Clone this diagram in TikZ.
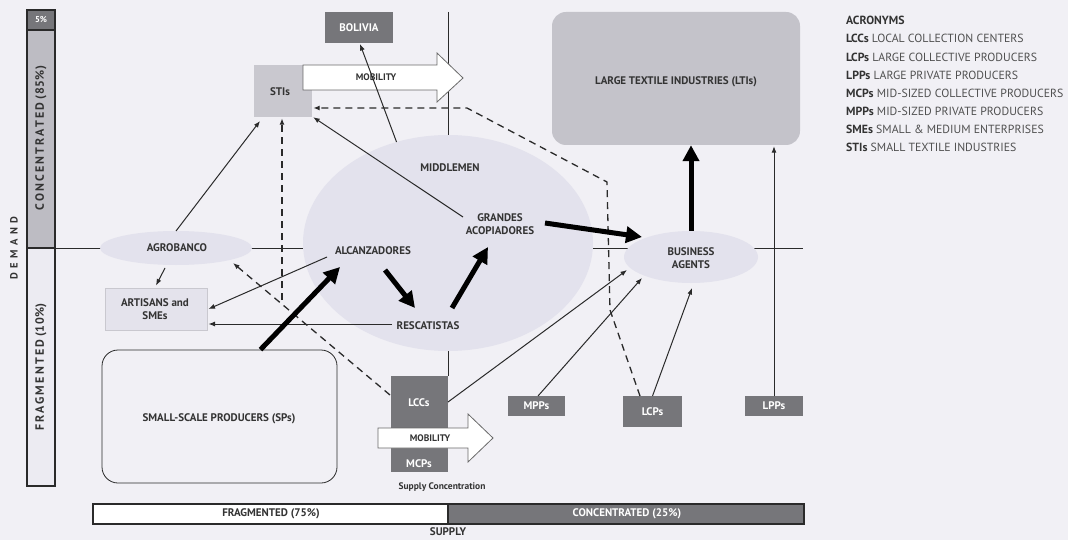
\documentclass[tikz,border=0pt]{standalone}
\usepackage{fontspec}
\setmainfont{PT Sans}
\usetikzlibrary{arrows.meta,shapes.geometric}

\definecolor{bg}{HTML}{F1F0F5}
\definecolor{ellfill}{HTML}{E3E2ED}
\definecolor{ltifill}{HTML}{C4C3CA}
\definecolor{stifill}{HTML}{C9C8CF}
\definecolor{dkbox}{HTML}{76767A}
\definecolor{concbar}{HTML}{BDBCC3}
\definecolor{fragbar}{HTML}{ECEBF2}
\definecolor{artfill}{HTML}{E4E3EC}
\definecolor{txt}{HTML}{333333}
\definecolor{acrtxt}{HTML}{505050}
\definecolor{edge}{HTML}{2A2A2A}

\newcommand{\lblfont}{\fontsize{11}{12.5}\selectfont\bfseries}
\newcommand{\accfont}{\fontsize{11.8}{13}\selectfont}

\tikzset{
  lbl/.style={font=\lblfont, text=txt, inner sep=1pt, align=center},
  cell/.style={draw=edge, line width=1.6pt, inner sep=0pt, outer sep=0pt},
  dbox/.style={fill=dkbox, text=white, inner sep=0pt, outer sep=0pt, font=\lblfont},
  thinarrow/.style={draw=edge, line width=1pt, -{Latex[length=6.5pt,width=5pt]}},
  thickarrow/.style={draw=black, line width=5pt, -{Triangle[length=16pt,width=16pt]}},
  dashline/.style={draw=edge, line width=1.3pt, dash pattern=on 7pt off 5pt},
  axisline/.style={draw=edge, line width=1pt},
  bubble/.style={ellipse, fill=ellfill, inner sep=0pt, outer sep=0pt},
  acr/.style={anchor=west, inner sep=0pt, text=acrtxt, font=\accfont},
}

\begin{document}
\begin{tikzpicture}[x=1pt,y=-1pt]
\fill[bg] (0,0) rectangle (1068,540);
\useasboundingbox (0,0) rectangle (1068,540);

% ---------- demand bar ----------
\node[cell, fill=dkbox, minimum width=28, minimum height=20] (five) at (41,20) {};
\node[cell, fill=concbar, minimum width=28, minimum height=218] (conc) at (41,139) {};
\node[cell, fill=fragbar, minimum width=28, minimum height=238] (frag) at (41,367) {};
\node[text=white, font=\fontsize{8.5}{9}\selectfont\bfseries, inner sep=0pt] (fivetxt) at (41,20) {5\%};
\node[rotate=90, text=txt, font=\fontsize{12}{13}\selectfont\bfseries, inner sep=0pt] (conctxt) at (41,138)
  {{\addfontfeature{LetterSpace=18}CONCENTRATED} {\addfontfeature{LetterSpace=4}(85\%)}};
\node[rotate=90, text=txt, font=\fontsize{12}{13}\selectfont\bfseries, inner sep=0pt] (fragtxt) at (41,367)
  {{\addfontfeature{LetterSpace=18}FRAGMENTED} {\addfontfeature{LetterSpace=4}(10\%)}};
\node[rotate=90, text=txt, font=\fontsize{10.5}{12}\selectfont\bfseries, inner sep=0pt] (demand) at (14,248)
  {\addfontfeature{LetterSpace=42}DEMAND};

% ---------- supply bar ----------
\node[cell, fill=white, minimum width=355, minimum height=20] (sfrag) at (270.5,514) {};
\node[cell, fill=dkbox, minimum width=356, minimum height=20] (sconc) at (626,514) {};
\node[lbl, font=\fontsize{11}{12}\selectfont\bfseries] (sfragtxt) at (271,514) {FRAGMENTED (75\%)};
\node[lbl, text=white, font=\fontsize{11}{12}\selectfont\bfseries] (sconctxt) at (627,514) {CONCENTRATED (25\%)};
\node[lbl, font=\fontsize{11}{12}\selectfont\bfseries] (supply) at (448,532) {SUPPLY};

% ---------- axes ----------
\coordinate (axR) at (803,248);
\coordinate (axT) at (448,12);
\draw[axisline] (conc.south east) -- (axR);

% ---------- boxes ----------
\node[fill=ltifill, rounded corners=14pt, minimum width=248, minimum height=133, inner sep=0pt] (lti) at (676,78.5) {};
\node[lbl] (ltitxt) at (676,82) {LARGE TEXTILE INDUSTRIES (LTIs)};
\node[fill=stifill, minimum width=58, minimum height=52, inner sep=0pt] (sti) at (283,91) {};
\node[lbl] (stitxt) at (280,92) {STIs};
\node[dbox, minimum width=68, minimum height=31] (bol) at (359,27.5) {BOLIVIA};
\node[fill=artfill, draw=stifill, line width=1pt, minimum width=102, minimum height=42, inner sep=0pt] (art) at (156,309) {};
\node[lbl] (arttxt) at (155,309) {ARTISANS and\\SMEs};
\node[draw=edge, line width=0.8pt, fill=bg, rounded corners=16pt, minimum width=235, minimum height=133, inner sep=0pt] (sps) at (219.5,416.5) {};
\node[lbl] (spstxt) at (219,419) {SMALL-SCALE PRODUCERS (SPs)};
\node[dbox, minimum width=57, minimum height=96] (col) at (419.5,424) {};
\draw[axisline] (axT) -- (col.north east);
\node[text=white, font=\lblfont, inner sep=0pt] (lcc) at (419,403) {LCCs};
\node[text=white, font=\lblfont, inner sep=0pt] (mcp) at (419,464) {MCPs};
\node[lbl, font=\fontsize{9.5}{11}\selectfont\bfseries] (supconc) at (442,487) {Supply Concentration};
\node[dbox, minimum width=57, minimum height=20] (mpp) at (536.5,406) {MPPs};
\node[dbox, minimum width=59, minimum height=31] (lcp) at (652.5,411.5) {LCPs};
\node[dbox, minimum width=58, minimum height=20] (lpp) at (774,406) {LPPs};

% ---------- ellipses ----------
\node[bubble, minimum width=290, minimum height=216] (midd) at (448,243) {};
\node[bubble, minimum width=152, minimum height=34] (agro) at (176,248) {};
\node[lbl] (agrotxt) at (177,248) {AGROBANCO};
\node[bubble, minimum width=134, minimum height=52] (ba) at (691,257) {};
\node[lbl] (batxt) at (691,258) {BUSINESS\\AGENTS};

% ---------- mobility arrows ----------
\draw[draw=edge!70, line width=0.8pt, fill=white]
  (303,65) -- (437,65) -- (437,53) -- (463,78) -- (437,102) -- (437,90) -- (303,90) -- cycle;
\node[lbl, font=\fontsize{9.5}{11}\selectfont\bfseries] (mobtop) at (376,77) {MOBILITY};
\draw[draw=edge!70, line width=0.8pt, fill=white]
  (378,428) -- (468,428) -- (468,414) -- (493,438) -- (468,462) -- (468,448) -- (378,448) -- cycle;
\node[lbl, font=\fontsize{9.5}{11}\selectfont\bfseries] (mobbot) at (430,438) {MOBILITY};

% ---------- middlemen labels ----------
\node[lbl] (midtxt) at (450,168) {MIDDLEMEN};
\node[lbl] (alc) at (373,251) {ALCANZADORES};
\node[lbl] (resc) at (428,326) {RESCATISTAS};
\node[lbl, inner sep=0pt] (gra) at (500,224) {GRANDES\\ACOPIADORES};

% ---------- thin arrows ----------
\draw[thinarrow] (agro.north) -- ([shift={(-23,30)}]sti.center);
\draw[thinarrow] ([shift={(-11,20)}]agro.center) -- ([yshift=2pt]art.north);
\draw[thinarrow] ([shift={(-46,6)}]alc.center) -- ([xshift=1pt]art.east);
\draw[thinarrow] ([shift={(-36,-2)}]resc.center) -- ([shift={(1,15)}]art.east);
\draw[thinarrow] ([shift={(-37,-7)}]gra.center) -- ([shift={(1,0)}]sti.south east);
\draw[thinarrow] (midd.117) -- ([shift={(1,1)}]bol.south);
\draw[thinarrow] ([shift={(0,-22)}]col.east) -- ([shift={(-64,13)}]ba.center);
\draw[thinarrow] ([xshift=1.5pt]mpp.north) -- ([shift={(-49,21)}]ba.center);
\draw[thinarrow] (lcp.north) -- ([shift={(1,5)}]ba.south);
\draw[thinarrow] (lpp.north) -- ([shift={(98,1)}]lti.south);

% ---------- dashed links ----------
\coordinate (dstart) at (282,300);
\draw[dashline, -{Latex[length=6.5pt,width=5pt]}] (dstart) -- ([shift={(-1,1)}]sti.south);
\draw[dashline, -{Latex[length=6.5pt,width=5pt]}] ([shift={(-1,19)}]col.north west) -- ([shift={(57,15)}]agro.center);
\draw[dashline, -{Latex[length=6.5pt,width=5pt]}] ([xshift=-12.5pt]lcp.north) -- (610,310) -- (607,182) -- (467,108) -- ([shift={(1,17)}]sti.east);

% ---------- thick flows ----------
\draw[thickarrow] ([xshift=41pt]sps.north) -- ([shift={(-33,16)}]alc.center);
\draw[thickarrow] ([shift={(12,19)}]alc.center) -- ([shift={(-13,-18)}]resc.center);
\draw[thickarrow] ([shift={(24,-18)}]resc.center) -- ([shift={(-12,23)}]gra.center);
\draw[thickarrow] ([shift={(45,-1)}]gra.center) -- ([shift={(-49,-20)}]ba.center);
\draw[thickarrow] (ba.north) -- ([xshift=15pt]lti.south);

% ---------- acronyms ----------
\node[acr, text=txt, font=\accfont\bfseries] (acrhead) at (846,20) {ACRONYMS};
\node[acr] (a1) at (846,38) {\textcolor{txt}{\textbf{LCCs}} LOCAL COLLECTION CENTERS};
\node[acr] (a2) at (846,57) {\textcolor{txt}{\textbf{LCPs}} LARGE COLLECTIVE PRODUCERS};
\node[acr] (a3) at (846,75) {\textcolor{txt}{\textbf{LPPs}} LARGE PRIVATE PRODUCERS};
\node[acr] (a4) at (846,93) {\textcolor{txt}{\textbf{MCPs}} MID-SIZED COLLECTIVE PRODUCERS};
\node[acr] (a5) at (846,111) {\textcolor{txt}{\textbf{MPPs}} MID-SIZED PRIVATE PRODUCERS};
\node[acr] (a6) at (846,129) {\textcolor{txt}{\textbf{SMEs}} SMALL \& MEDIUM ENTERPRISES};
\node[acr] (a7) at (846,147) {\textcolor{txt}{\textbf{STIs}} SMALL TEXTILE INDUSTRIES};
\end{tikzpicture}
\end{document}
